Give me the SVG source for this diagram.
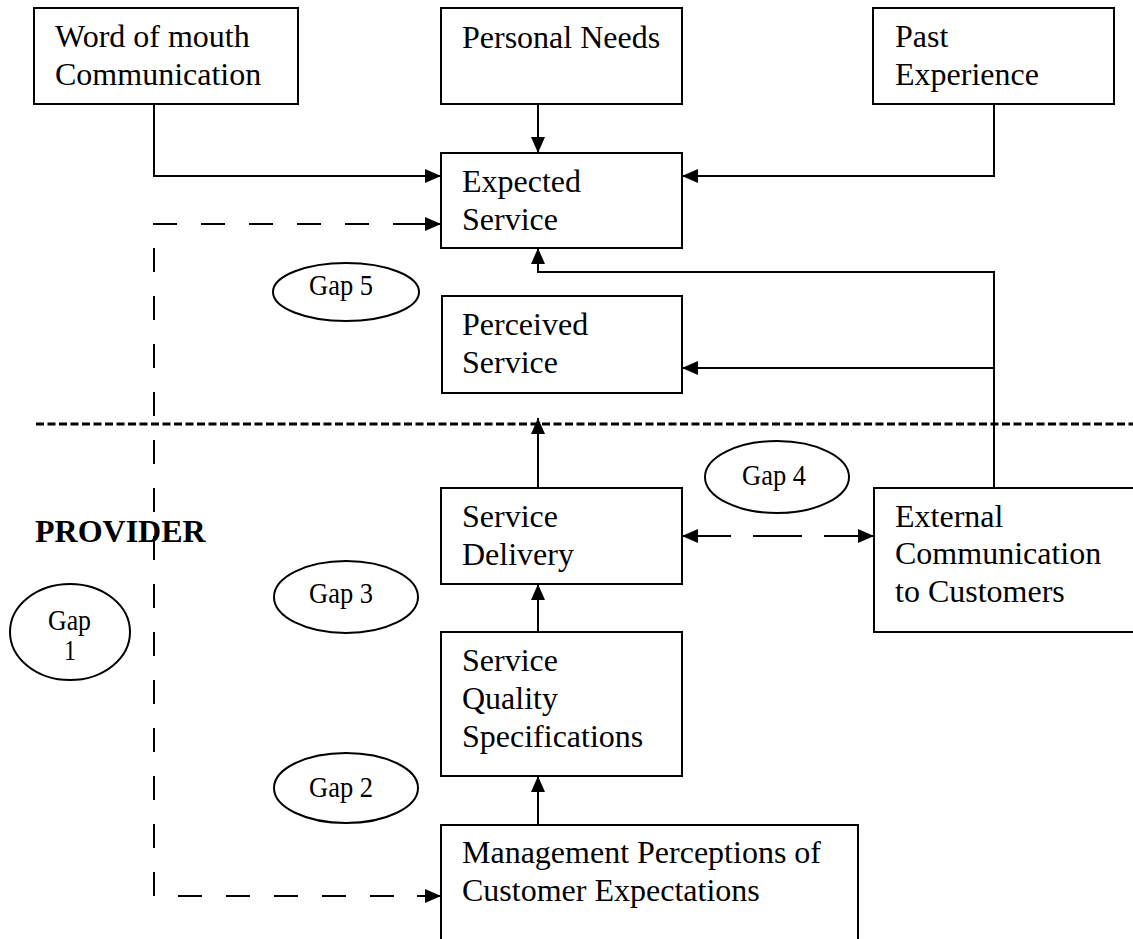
<svg xmlns="http://www.w3.org/2000/svg" width="1133" height="939" viewBox="0 0 1133 939">
<style>
.box{fill:#fff;stroke:#000;stroke-width:2}
.t{font-family:"Liberation Serif","Times New Roman",serif;font-size:32px;fill:#000}
.g{font-family:"Liberation Serif","Times New Roman",serif;font-size:29px;fill:#000}
.b{font-family:"Liberation Serif","Times New Roman",serif;font-size:32px;font-weight:bold;fill:#000}
.ell{fill:none;stroke:#000;stroke-width:2}
.ln{fill:none;stroke:#000;stroke-width:2}
.ds{fill:none;stroke:#000;stroke-width:2;stroke-dasharray:24 24}
.sep{fill:none;stroke:#000;stroke-width:3;stroke-dasharray:8 3.5}
</style>
<defs>
<marker id="ah" markerUnits="userSpaceOnUse" markerWidth="16" markerHeight="14" refX="16" refY="7" orient="auto-start-reverse" viewBox="0 0 16 14">
<path d="M0,0 L16,7 L0,14 z" fill="#000"/>
</marker>
</defs>
<rect width="1133" height="939" fill="#fff"/>

<g id="separator">
<line class="sep" x1="36" y1="424" x2="1133" y2="424"/>
</g>

<g id="connectors">
<path class="ln" d="M154,104 V176 H441" marker-end="url(#ah)"/>
<path class="ln" d="M538,104 V153" marker-end="url(#ah)"/>
<path class="ln" d="M994,104 V176 H682" marker-end="url(#ah)"/>
<path class="ln" d="M994,488 V272 H538 V248" marker-end="url(#ah)"/>
<path class="ln" d="M994,368 H682" marker-end="url(#ah)"/>
<path class="ln" d="M538,488 V418" marker-end="url(#ah)"/>
<path class="ln" d="M538,632 V584" marker-end="url(#ah)"/>
<path class="ln" d="M538,825 V776" marker-end="url(#ah)"/>
<path class="ln" d="M682,536 H874" style="stroke-dasharray:49 22" marker-start="url(#ah)" marker-end="url(#ah)"/>
<path class="ds" d="M153,224 H441"/>
<path class="ln" d="M393,224 H441" marker-end="url(#ah)"/>
<path class="ds" d="M154,248 V896"/>
<path class="ds" d="M178,896 H441"/>
<path class="ln" d="M417,896 H441" marker-end="url(#ah)"/>
</g>

<g id="word-of-mouth">
<rect class="box" x="34" y="8" width="264" height="96"/>
<text class="t" x="55" y="47">Word of mouth</text>
<text class="t" x="55" y="85">Communication</text>
</g>
<g id="personal-needs">
<rect class="box" x="441" y="8" width="241" height="96"/>
<text class="t" x="462" y="48">Personal Needs</text>
</g>
<g id="past-experience">
<rect class="box" x="873" y="8" width="241" height="96"/>
<text class="t" x="895" y="47">Past</text>
<text class="t" x="895" y="85">Experience</text>
</g>
<g id="expected-service">
<rect class="box" x="441" y="153" width="241" height="95"/>
<text class="t" x="462" y="192">Expected</text>
<text class="t" x="462" y="230">Service</text>
</g>
<g id="perceived-service">
<rect class="box" x="442" y="296" width="240" height="97"/>
<text class="t" x="462" y="335">Perceived</text>
<text class="t" x="462" y="373">Service</text>
</g>
<g id="service-delivery">
<rect class="box" x="441" y="488" width="241" height="96"/>
<text class="t" x="462" y="527">Service</text>
<text class="t" x="462" y="565">Delivery</text>
</g>
<g id="external-communication">
<rect class="box" x="874" y="488" width="260" height="144"/>
<text class="t" x="895" y="527">External</text>
<text class="t" x="895" y="564">Communication</text>
<text class="t" x="895" y="602">to Customers</text>
</g>
<g id="service-quality-specifications">
<rect class="box" x="441" y="632" width="241" height="144"/>
<text class="t" x="462" y="671">Service</text>
<text class="t" x="462" y="709">Quality</text>
<text class="t" x="462" y="747">Specifications</text>
</g>
<g id="management-perceptions">
<rect class="box" x="441" y="825" width="417" height="130"/>
<text class="t" x="462" y="863">Management Perceptions of</text>
<text class="t" x="462" y="901">Customer Expectations</text>
</g>

<g id="provider-label">
<text class="b" x="35" y="542">PROVIDER</text>
</g>

<g id="gap5">
<ellipse class="ell" cx="346" cy="292" rx="73" ry="29"/>
<text class="g" x="309" y="295" textLength="64" lengthAdjust="spacingAndGlyphs">Gap 5</text>
</g>
<g id="gap4">
<ellipse class="ell" cx="777" cy="477" rx="72" ry="36"/>
<text class="g" x="742" y="485" textLength="64" lengthAdjust="spacingAndGlyphs">Gap 4</text>
</g>
<g id="gap3">
<ellipse class="ell" cx="346" cy="597" rx="72" ry="36"/>
<text class="g" x="309" y="603" textLength="64" lengthAdjust="spacingAndGlyphs">Gap 3</text>
</g>
<g id="gap2">
<ellipse class="ell" cx="346" cy="788" rx="72" ry="35"/>
<text class="g" x="309" y="797" textLength="64" lengthAdjust="spacingAndGlyphs">Gap 2</text>
</g>
<g id="gap1">
<ellipse class="ell" cx="70" cy="632" rx="60" ry="48"/>
<text class="g" x="48" y="630" textLength="43" lengthAdjust="spacingAndGlyphs">Gap</text>
<text class="g" x="64" y="660" textLength="12" lengthAdjust="spacingAndGlyphs">1</text>
</g>
</svg>
